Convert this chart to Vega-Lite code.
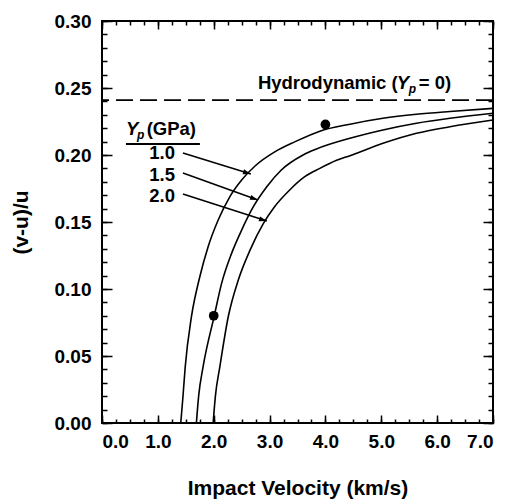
{
  "$schema": "https://vega.github.io/schema/vega-lite/v6.json",
  "width": 391,
  "height": 402,
  "autosize": {"type": "none"},
  "padding": {"left": 102, "top": 21, "right": 17, "bottom": 77},
  "background": "white",
  "config": {
    "view": {"stroke": "black", "strokeWidth": 2},
    "font": "Liberation Sans",
    "axis": {
      "grid": false, "domain": false, "tickColor": "black", "tickWidth": 1.5,
      "labelColor": "black", "titleColor": "black",
      "labelFont": "Liberation Sans", "titleFont": "Liberation Sans",
      "labelFontWeight": "bold", "titleFontWeight": "bold",
      "labelFontSize": 19, "titleFontSize": 21
    }
  },
  "datasets": {
    "curves": [
      {"series": "1.0", "v": 1.41, "r": 0.0},
      {"series": "1.0", "v": 1.45, "r": 0.02},
      {"series": "1.0", "v": 1.49, "r": 0.042},
      {"series": "1.0", "v": 1.60, "r": 0.079},
      {"series": "1.0", "v": 1.75, "r": 0.109},
      {"series": "1.0", "v": 1.90, "r": 0.1316},
      {"series": "1.0", "v": 2.08, "r": 0.1515},
      {"series": "1.0", "v": 2.29, "r": 0.169},
      {"series": "1.0", "v": 2.50, "r": 0.1813},
      {"series": "1.0", "v": 2.74, "r": 0.1918},
      {"series": "1.0", "v": 3.10, "r": 0.2025},
      {"series": "1.0", "v": 3.45, "r": 0.2098},
      {"series": "1.0", "v": 3.90, "r": 0.2178},
      {"series": "1.0", "v": 4.44, "r": 0.2230},
      {"series": "1.0", "v": 5.03, "r": 0.2274},
      {"series": "1.0", "v": 5.63, "r": 0.2304},
      {"series": "1.0", "v": 6.23, "r": 0.2325},
      {"series": "1.0", "v": 7.0, "r": 0.2348},
      {"series": "1.5", "v": 1.69, "r": 0.0},
      {"series": "1.5", "v": 1.73, "r": 0.02},
      {"series": "1.5", "v": 1.81, "r": 0.042},
      {"series": "1.5", "v": 2.01, "r": 0.080},
      {"series": "1.5", "v": 2.14, "r": 0.104},
      {"series": "1.5", "v": 2.32, "r": 0.1266},
      {"series": "1.5", "v": 2.50, "r": 0.144},
      {"series": "1.5", "v": 2.71, "r": 0.1614},
      {"series": "1.5", "v": 2.95, "r": 0.1763},
      {"series": "1.5", "v": 3.21, "r": 0.1888},
      {"series": "1.5", "v": 3.60, "r": 0.200},
      {"series": "1.5", "v": 3.84, "r": 0.2045},
      {"series": "1.5", "v": 4.44, "r": 0.2125},
      {"series": "1.5", "v": 5.03, "r": 0.2187},
      {"series": "1.5", "v": 5.63, "r": 0.2237},
      {"series": "1.5", "v": 6.23, "r": 0.2274},
      {"series": "1.5", "v": 7.0, "r": 0.2311},
      {"series": "2.0", "v": 1.99, "r": 0.0},
      {"series": "2.0", "v": 2.03, "r": 0.02},
      {"series": "2.0", "v": 2.11, "r": 0.042},
      {"series": "2.0", "v": 2.26, "r": 0.0793},
      {"series": "2.0", "v": 2.44, "r": 0.1067},
      {"series": "2.0", "v": 2.65, "r": 0.129},
      {"series": "2.0", "v": 2.89, "r": 0.149},
      {"series": "2.0", "v": 3.09, "r": 0.1614},
      {"series": "2.0", "v": 3.36, "r": 0.1739},
      {"series": "2.0", "v": 3.63, "r": 0.1838},
      {"series": "2.0", "v": 3.90, "r": 0.190},
      {"series": "2.0", "v": 4.20, "r": 0.196},
      {"series": "2.0", "v": 4.44, "r": 0.1995},
      {"series": "2.0", "v": 5.03, "r": 0.2087},
      {"series": "2.0", "v": 5.63, "r": 0.2162},
      {"series": "2.0", "v": 6.23, "r": 0.2211},
      {"series": "2.0", "v": 7.0, "r": 0.2261}
    ],
    "points": [{"v": 2.0, "r": 0.080}, {"v": 4.0, "r": 0.2228}],
    "hydro": [{"r": 0.241}],
    "arrows": [
      {"v1": 1.449, "r1": 0.2015, "v2": 2.665, "r2": 0.1858, "angle": 17},
      {"v1": 1.449, "r1": 0.1866, "v2": 2.791, "r2": 0.1664, "angle": 19},
      {"v1": 1.449, "r1": 0.1709, "v2": 2.952, "r2": 0.1507, "angle": 16.5}
    ],
    "underline": [{"v1": 0.429, "v2": 1.753, "r": 0.2082}],
    "textPlain": [
      {"text": "Hydrodynamic (", "v": 2.791, "r": 0.2493},
      {"text": "= 0)", "v": 5.671, "r": 0.2493},
      {"text": "(GPa)", "v": 0.80, "r": 0.2149}
    ],
    "textItalic": [
      {"text": "Y", "v": 5.277, "r": 0.2493},
      {"text": "Y", "v": 0.429, "r": 0.2149}
    ],
    "textSub": [
      {"text": "p", "v": 5.492, "r": 0.2463},
      {"text": "p", "v": 0.626, "r": 0.2119}
    ],
    "textNum": [
      {"text": "1.0", "v": 1.306, "r": 0.2015},
      {"text": "1.5", "v": 1.306, "r": 0.1851},
      {"text": "2.0", "v": 1.306, "r": 0.1694}
    ]
  },
  "layer": [
    {
      "data": {"name": "curves"},
      "mark": {"type": "line", "color": "black", "strokeWidth": 1.6, "interpolate": "monotone"},
      "encoding": {
        "x": {"field": "v", "type": "quantitative", "scale": {"domain": [0, 7], "nice": false, "zero": false},
          "axis": {"orient": "bottom", "values": [0, 1, 2, 3, 4, 5, 6, 7], "format": ".1f", "tickSize": -8, "labelPadding": 17,
            "title": "Impact Velocity (km/s)", "titleX": 195.5, "titleY": 65, "titleBaseline": "middle", "titleAlign": "center"}},
        "y": {"field": "r", "type": "quantitative", "scale": {"domain": [0, 0.3], "nice": false, "zero": false},
          "axis": {"orient": "left", "values": [0, 0.05, 0.1, 0.15, 0.2, 0.25, 0.3], "format": ".2f", "tickSize": -10, "labelPadding": 21,
            "title": "(v-u)/u", "titleX": -81, "titleY": 201, "titleAngle": 270, "titleBaseline": "middle", "titleAlign": "center"}},
        "detail": {"field": "series", "type": "nominal"}
      }
    },
    {
      "data": {"name": "points"},
      "mark": {"type": "point", "filled": true, "color": "black", "opacity": 1, "size": 95},
      "encoding": {
        "x": {"field": "v", "type": "quantitative", "scale": {"domain": [0, 7], "nice": false, "zero": false},
          "axis": {"orient": "bottom", "values": [0, 0.25, 0.5, 0.75, 1, 1.25, 1.5, 1.75, 2, 2.25, 2.5, 2.75, 3, 3.25, 3.5, 3.75, 4, 4.25, 4.5, 4.75, 5, 5.25, 5.5, 5.75, 6, 6.25, 6.5, 6.75, 7], "labels": false, "tickSize": -4, "title": null}},
        "y": {"field": "r", "type": "quantitative", "scale": {"domain": [0, 0.3], "nice": false, "zero": false},
          "axis": {"orient": "left", "values": [0, 0.01, 0.02, 0.03, 0.04, 0.05, 0.06, 0.07, 0.08, 0.09, 0.1, 0.11, 0.12, 0.13, 0.14, 0.15, 0.16, 0.17, 0.18, 0.19, 0.2, 0.21, 0.22, 0.23, 0.24, 0.25, 0.26, 0.27, 0.28, 0.29, 0.3], "labels": false, "tickSize": -5, "title": null}}
      }
    },
    {
      "data": {"name": "arrows"},
      "mark": {"type": "rule", "color": "black", "strokeWidth": 1.5},
      "encoding": {
        "x": {"field": "v1", "type": "quantitative", "scale": {"domain": [0, 7], "nice": false, "zero": false},
          "axis": {"orient": "top", "values": [0, 1, 2, 3, 4, 5, 6, 7], "labels": false, "tickSize": -8, "title": null}},
        "x2": {"field": "v2"},
        "y": {"field": "r1", "type": "quantitative", "scale": {"domain": [0, 0.3], "nice": false, "zero": false},
          "axis": {"orient": "right", "values": [0, 0.05, 0.1, 0.15, 0.2, 0.25, 0.3], "labels": false, "tickSize": -10, "title": null}},
        "y2": {"field": "r2"}
      }
    },
    {
      "data": {"name": "underline"},
      "mark": {"type": "rule", "color": "black", "strokeWidth": 2},
      "encoding": {
        "x": {"field": "v1", "type": "quantitative", "scale": {"domain": [0, 7], "nice": false, "zero": false},
          "axis": {"orient": "top", "values": [0, 0.25, 0.5, 0.75, 1, 1.25, 1.5, 1.75, 2, 2.25, 2.5, 2.75, 3, 3.25, 3.5, 3.75, 4, 4.25, 4.5, 4.75, 5, 5.25, 5.5, 5.75, 6, 6.25, 6.5, 6.75, 7], "labels": false, "tickSize": -4, "title": null}},
        "x2": {"field": "v2"},
        "y": {"field": "r", "type": "quantitative", "scale": {"domain": [0, 0.3], "nice": false, "zero": false},
          "axis": {"orient": "right", "values": [0, 0.01, 0.02, 0.03, 0.04, 0.05, 0.06, 0.07, 0.08, 0.09, 0.1, 0.11, 0.12, 0.13, 0.14, 0.15, 0.16, 0.17, 0.18, 0.19, 0.2, 0.21, 0.22, 0.23, 0.24, 0.25, 0.26, 0.27, 0.28, 0.29, 0.3], "labels": false, "tickSize": -5, "title": null}}
      }
    },
    {
      "data": {"name": "hydro"},
      "mark": {"type": "rule", "color": "black", "strokeWidth": 1.8, "strokeDash": [17, 7]},
      "encoding": {
        "y": {"field": "r", "type": "quantitative", "axis": null}
      }
    },
    {
      "data": {"name": "arrows"},
      "mark": {"type": "point", "shape": "M0,0L-1,-0.32L-1,0.32Z", "filled": true, "color": "black", "opacity": 1, "size": 250},
      "encoding": {
        "x": {"field": "v2", "type": "quantitative", "axis": null},
        "y": {"field": "r2", "type": "quantitative", "axis": null},
        "angle": {"field": "angle", "type": "quantitative", "scale": null}
      }
    },
    {
      "data": {"name": "textPlain"},
      "mark": {"type": "text", "align": "left", "baseline": "alphabetic", "font": "Liberation Sans", "fontWeight": "bold", "fontSize": 18.5, "color": "black"},
      "encoding": {
        "x": {"field": "v", "type": "quantitative", "axis": null},
        "y": {"field": "r", "type": "quantitative", "axis": null},
        "text": {"field": "text"}
      }
    },
    {
      "data": {"name": "textItalic"},
      "mark": {"type": "text", "align": "left", "baseline": "alphabetic", "font": "Liberation Sans", "fontWeight": "bold", "fontStyle": "italic", "fontSize": 18.5, "color": "black"},
      "encoding": {
        "x": {"field": "v", "type": "quantitative", "axis": null},
        "y": {"field": "r", "type": "quantitative", "axis": null},
        "text": {"field": "text"}
      }
    },
    {
      "data": {"name": "textSub"},
      "mark": {"type": "text", "align": "left", "baseline": "alphabetic", "font": "Liberation Sans", "fontWeight": "bold", "fontStyle": "italic", "fontSize": 12, "color": "black"},
      "encoding": {
        "x": {"field": "v", "type": "quantitative", "axis": null},
        "y": {"field": "r", "type": "quantitative", "axis": null},
        "text": {"field": "text"}
      }
    },
    {
      "data": {"name": "textNum"},
      "mark": {"type": "text", "align": "right", "baseline": "middle", "font": "Liberation Sans", "fontWeight": "bold", "fontSize": 18.5, "color": "black"},
      "encoding": {
        "x": {"field": "v", "type": "quantitative", "axis": null},
        "y": {"field": "r", "type": "quantitative", "axis": null},
        "text": {"field": "text"}
      }
    }
  ],
  "resolve": {"axis": {"x": "independent", "y": "independent"}}
}
